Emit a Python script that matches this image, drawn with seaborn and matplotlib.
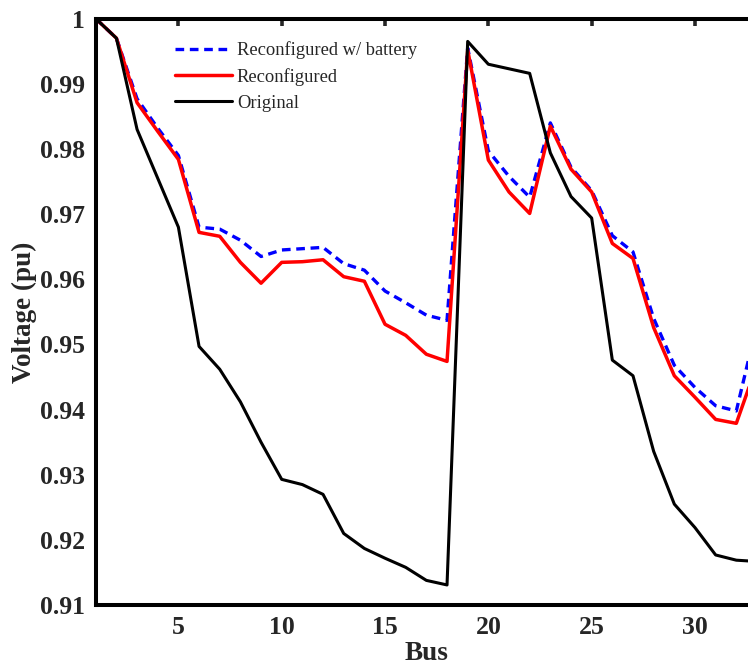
import numpy as np
import pandas as pd
import matplotlib
matplotlib.use("Agg")
import matplotlib.pyplot as plt
import seaborn as sns

bus = list(range(1, 34))
battery = [1.0, 0.997, 0.9877, 0.9832, 0.9790, 0.9680, 0.9677, 0.9660, 0.9635, 0.9645, 0.9647,
           0.9649, 0.9624, 0.9614, 0.9582, 0.9564, 0.9545, 0.9537, 0.9955, 0.9797, 0.9758,
           0.9726, 0.9840, 0.9772, 0.9736, 0.9667, 0.9642, 0.9540, 0.9468, 0.9434, 0.9406,
           0.9398, 0.9531]
reconf = [1.0, 0.997, 0.9871, 0.9827, 0.9784, 0.9672, 0.9666, 0.9626, 0.9594, 0.9626, 0.9627,
          0.9630, 0.9604, 0.9597, 0.9531, 0.9514, 0.9485, 0.9474, 0.9952, 0.9783, 0.9734,
          0.9701, 0.9835, 0.9769, 0.9734, 0.9655, 0.9632, 0.9526, 0.9452, 0.9419, 0.9385,
          0.9379, 0.9469]
original = [1.0, 0.997, 0.9830, 0.9755, 0.9680, 0.9497, 0.9462, 0.9412, 0.9350, 0.9293, 0.9285,
            0.9270, 0.9210, 0.9187, 0.9172, 0.9158, 0.9138, 0.9131, 0.9965, 0.9930, 0.9923,
            0.9916, 0.9794, 0.9727, 0.9694, 0.9476, 0.9452, 0.9336, 0.9255, 0.9219, 0.9177,
            0.9169, 0.9167]
series_names = ["Reconfigured w/ battery", "Reconfigured", "Original"]
xticks = [5, 10, 15, 20, 25, 30]
yticks = [0.91, 0.92, 0.93, 0.94, 0.95, 0.96, 0.97, 0.98, 0.99, 1.0]
ytick_labels = ["0.91", "0.92", "0.93", "0.94", "0.95", "0.96", "0.97", "0.98", "0.99", "1"]

df = pd.DataFrame({"Bus": bus, series_names[0]: battery, series_names[1]: reconf,
                   series_names[2]: original})

sns.set_style("white")
plt.rcParams["font.family"] = ["Liberation Serif", "DejaVu Serif"]

fig = plt.figure(figsize=(7.48, 6.65), dpi=100)
ax = fig.add_axes([0.128, 0.090, 0.884, 0.882])

sns.lineplot(data=df, x="Bus", y=series_names[0], ax=ax, color="#0000ff", lw=2.4,
             linestyle=(0, (2.6, 1.7)), label=series_names[0])
sns.lineplot(data=df, x="Bus", y=series_names[1], ax=ax, color="#ff0000", lw=2.5,
             label=series_names[1])
sns.lineplot(data=df, x="Bus", y=series_names[2], ax=ax, color="black", lw=2.2,
             label=series_names[2])

ax.set_xlim(1, 33)
ax.set_ylim(0.91, 1.0)
ax.set_xticks(xticks)
ax.set_xticklabels([str(t) for t in xticks], fontsize=18.5, fontweight="bold")
ax.set_yticks(yticks)
ax.set_yticklabels(ytick_labels, fontsize=18.5, fontweight="bold")
ax.tick_params(direction="in", length=5, width=2.6, top=True, right=True, pad=7.5)
for s in ax.spines.values():
    s.set_linewidth(2.9)
    s.set_color("black")
    s.set_visible(True)

ax.set_xlabel("Bus", fontsize=19.5, fontweight="bold", labelpad=2)
ax.set_ylabel("Voltage (pu)", fontsize=19.5, fontweight="bold", labelpad=2)

leg = ax.legend(loc="upper left", bbox_to_anchor=(0.094, 0.990), frameon=False,
                fontsize=13.3, handlelength=3.1, handletextpad=0.27, labelspacing=0.48)

fig.savefig("out.png", dpi=100)
